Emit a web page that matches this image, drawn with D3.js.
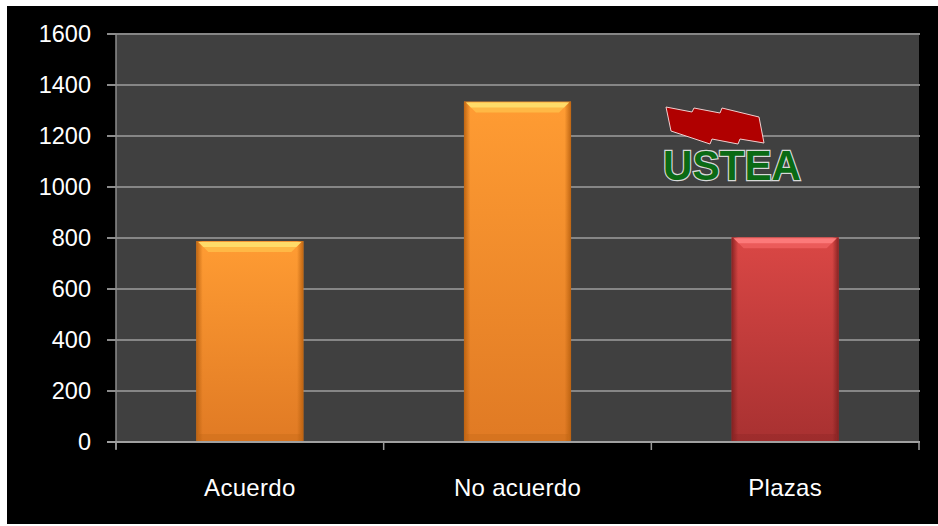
<!DOCTYPE html>
<html><head><meta charset="utf-8">
<script src="https://cdn.jsdelivr.net/npm/d3@7"></script>
<style>html,body{margin:0;padding:0;background:#fff;}svg{display:block;}</style>
</head><body>
<svg id="c" width="938" height="526"></svg>
<script>
const categories = ["Acuerdo", "No acuerdo", "Plazas"];
const values = [788, 1335, 803];
const barKinds = ["orange", "orange", "red"];
const yTicks = [0, 200, 400, 600, 800, 1000, 1200, 1400, 1600];

const svg = d3.select("#c");
const W = 938, H = 526;
const plot = {left: 116, right: 919, top: 34, bottom: 442};

svg.append("rect").attr("x", 7).attr("y", 6).attr("width", W - 7).attr("height", 518).attr("fill", "#000");

const x = d3.scaleBand().domain(categories).range([plot.left, plot.right]).paddingInner(0.6).paddingOuter(0.3);
const xOuter = d3.scaleBand().domain(categories).range([plot.left, plot.right]);
const y = d3.scaleLinear().domain([0, 1600]).range([plot.bottom, plot.top]);

svg.append("rect").attr("x", plot.left).attr("y", plot.top)
  .attr("width", plot.right - plot.left).attr("height", plot.bottom - plot.top).attr("fill", "#404040");

// gridlines
svg.append("g").selectAll("line").data(yTicks.filter(d => d > 0)).join("line")
  .attr("x1", plot.left).attr("x2", plot.right + 1)
  .attr("y1", d => y(d)).attr("y2", d => y(d))
  .attr("stroke", "#868686").attr("stroke-width", 2);

// defs
const defs = svg.append("defs");
const palettes = {
  orange: {top: "#ff9c33", bottom: "#e07a24", edge: "#b8600f", hi1: "#ffe070", hi2: "#ffbf4a"},
  red: {top: "#da4745", bottom: "#a83131", edge: "#7e1f1f", hi1: "#ff8080", hi2: "#f06060"}
};
Object.entries(palettes).forEach(([k, p]) => {
  const g = defs.append("linearGradient").attr("id", "g-" + k).attr("x1", 0).attr("y1", 0).attr("x2", 0).attr("y2", 1);
  g.append("stop").attr("offset", "0%").attr("stop-color", p.top);
  g.append("stop").attr("offset", "100%").attr("stop-color", p.bottom);
  const e = defs.append("linearGradient").attr("id", "e-" + k).attr("x1", 0).attr("y1", 0).attr("x2", 1).attr("y2", 0);
  e.append("stop").attr("offset", "0%").attr("stop-color", p.edge).attr("stop-opacity", 0.9);
  e.append("stop").attr("offset", "6%").attr("stop-color", p.edge).attr("stop-opacity", 0.0);
  e.append("stop").attr("offset", "94%").attr("stop-color", p.edge).attr("stop-opacity", 0.0);
  e.append("stop").attr("offset", "100%").attr("stop-color", p.edge).attr("stop-opacity", 0.9);
});

const bars = svg.append("g").selectAll("g").data(categories).join("g");
bars.each(function(c, i) {
  const g = d3.select(this);
  const k = barKinds[i], p = palettes[k];
  const bx = x(c), bw = x.bandwidth(), by = y(values[i]), bh = y(0) - y(values[i]);
  g.append("rect").attr("x", bx).attr("y", by).attr("width", bw).attr("height", bh).attr("fill", "url(#g-" + k + ")");
  g.append("rect").attr("x", bx).attr("y", by).attr("width", bw).attr("height", bh).attr("fill", "url(#e-" + k + ")");
  g.append("path").attr("d", `M${bx + 2},${by + 1}L${bx + bw - 2},${by + 1}L${bx + bw - 12},${by + 11}L${bx + 12},${by + 11}Z`)
    .attr("fill", p.hi2).attr("opacity", 0.8);
  g.append("path").attr("d", `M${bx + 2},${by + 1}L${bx + bw - 2},${by + 1}L${bx + bw - 7},${by + 6}L${bx + 7},${by + 6}Z`)
    .attr("fill", p.hi1).attr("opacity", 0.85);
  g.append("rect").attr("x", bx + 3).attr("y", by + bh - 8).attr("width", bw - 6).attr("height", 8)
    .attr("fill", p.edge).attr("opacity", 0.25);
});

// axes
svg.append("line").attr("x1", plot.left).attr("x2", plot.left).attr("y1", plot.top).attr("y2", plot.bottom + 7)
  .attr("stroke", "#8c8c8c").attr("stroke-width", 1.5);
svg.append("g").selectAll("line").data(yTicks).join("line")
  .attr("x1", plot.left - 9).attr("x2", plot.left).attr("y1", d => y(d)).attr("y2", d => y(d))
  .attr("stroke", "#8c8c8c").attr("stroke-width", 2);
svg.append("line").attr("x1", plot.left - 9).attr("x2", plot.right + 1).attr("y1", plot.bottom).attr("y2", plot.bottom)
  .attr("stroke", "#a0a0a0").attr("stroke-width", 2);
const xb = categories.map(c => xOuter(c)).concat([plot.right]);
svg.append("g").selectAll("line").data(xb).join("line")
  .attr("x1", d => d).attr("x2", d => d).attr("y1", plot.bottom).attr("y2", plot.bottom + 8)
  .attr("stroke", "#9a9a9a").attr("stroke-width", 1.5);

// labels
svg.append("g").selectAll("text").data(yTicks).join("text")
  .attr("x", 91).attr("y", d => y(d)).attr("dy", "0.36em")
  .attr("text-anchor", "end").attr("fill", "#fff")
  .style("font-family", "'Liberation Sans', Arial, sans-serif").style("font-size", "23.5px")
  .text(d => d);
svg.append("g").selectAll("text").data(categories).join("text")
  .attr("x", c => xOuter(c) + xOuter.bandwidth() / 2).attr("y", 496)
  .attr("text-anchor", "middle").attr("fill", "#fff")
  .style("font-family", "'Liberation Sans', Arial, sans-serif").style("font-size", "24px")
  .style("letter-spacing", "0.3px")
  .text(c => c);

// logo (decoration)
const logo = svg.append("g");
logo.append("path")
  .attr("d", "M666,107L692,112L694,108L720,113L722,108L759,117L764,143L740,139L738,144L712,139L710,144L671,131Z")
  .attr("fill", "#b00000").attr("stroke", "#f0d0d0").attr("stroke-width", 1);
logo.append("text").attr("x", 663).attr("y", 180)
  .attr("textLength", 138).attr("lengthAdjust", "spacingAndGlyphs")
  .attr("fill", "#0a6a14").attr("stroke", "#d8d8d8").attr("stroke-width", 2.5)
  .style("paint-order", "stroke")
  .style("font-family", "'Liberation Sans', Arial, sans-serif").style("font-weight", "bold").style("font-size", "43px")
  .text("USTEA");
</script>
</body></html>
